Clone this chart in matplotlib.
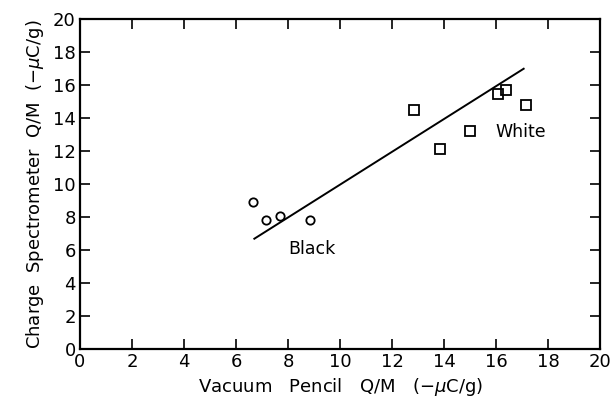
import matplotlib
matplotlib.use('Agg')
import matplotlib.pyplot as plt

# black toner (circles) and white toner (squares)
black_x = [6.63, 7.15, 7.68, 8.84]
black_y = [8.90, 7.81, 8.10, 7.81]
white_x = [12.83, 13.83, 14.98, 16.07, 16.37, 17.13]
white_y = [14.52, 12.12, 13.25, 15.44, 15.74, 14.79]

# fitted line endpoints
fit_x = [6.7, 17.05]
fit_y = [6.7, 17.0]

ticks = [0, 2, 4, 6, 8, 10, 12, 14, 16, 18, 20]

plt.rcParams['font.family'] = ['DejaVu Sans']
plt.rcParams['mathtext.fontset'] = 'dejavusans'

fig = plt.figure(figsize=(6.13, 4.09), dpi=100)
ax = fig.add_axes([0.1305, 0.146, 0.849, 0.807])

ax.plot(fit_x, fit_y, color='black', lw=1.4)
ax.plot(black_x, black_y, 'o', mfc='none', mec='black', ms=6, mew=1.3, ls='none')
ax.plot(white_x, white_y, 's', mfc='none', mec='black', ms=6.5, mew=1.3, ls='none')

ax.text(8.9, 6.05, 'Black', fontsize=12.5, ha='center', va='center')
ax.text(16.93, 13.19, 'White', fontsize=12.5, ha='center', va='center')

ax.set_xlim(0, 20)
ax.set_ylim(0, 20)
ax.set_xticks(ticks)
ax.set_yticks(ticks)
ax.tick_params(direction='in', length=7, width=1.2, labelsize=13,
               top=True, right=True, pad=3)
for s in ax.spines.values():
    s.set_linewidth(1.6)

ax.set_xlabel(r'Vacuum   Pencil   Q/M   ($-\mu$C/g)', fontsize=13, labelpad=3)
ax.set_ylabel(r'Charge  Spectrometer  Q/M  ($-\mu$C/g)', fontsize=13, labelpad=5)

fig.savefig('out.png', dpi=100)
